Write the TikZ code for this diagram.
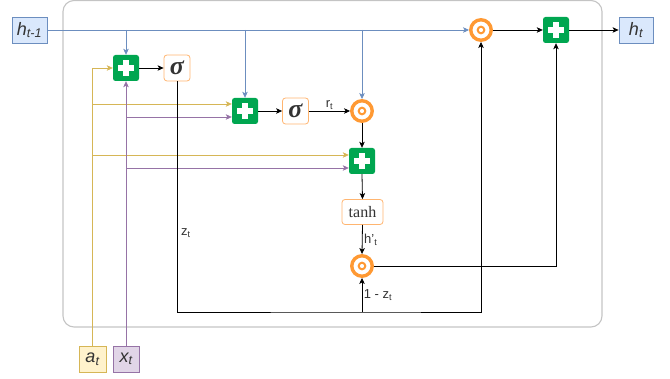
\documentclass[tikz,border=0pt]{standalone}
\usepackage{fontspec}
\setmainfont{Liberation Sans}
\newfontfamily\serifx{Liberation Serif}
\usetikzlibrary{arrows.meta,calc}
\definecolor{hblue}{HTML}{6C8EBF}
\definecolor{hbluefill}{HTML}{DAE8FC}
\definecolor{ayel}{HTML}{D6B656}
\definecolor{ayelfill}{HTML}{FFF2CC}
\definecolor{xpur}{HTML}{9673A6}
\definecolor{xpurfill}{HTML}{E1D5E7}
\definecolor{gplus}{HTML}{00A650}
\definecolor{orng}{HTML}{FF9933}
\definecolor{lorng}{HTML}{FFB570}
\definecolor{framec}{HTML}{C4C4C4}
\definecolor{txt}{HTML}{333333}
\newcommand{\sigmabig}{{\serifx\bfseries\itshape\fontsize{26}{26}\selectfont σ}}
\tikzset{
  io/.style={draw, minimum width=34pt, minimum height=26pt, inner sep=0pt, line width=0.8pt, text=txt, font=\fontsize{18}{18}\selectfont\itshape},
  pluss/.style={fill=gplus, rounded corners=2.5pt, minimum size=26pt, inner sep=0pt,
    path picture={\fill[white, sharp corners] ($(path picture bounding box.center)+(-8pt,-2.7pt)$) rectangle ++(16pt,5.4pt);
                  \fill[white, sharp corners] ($(path picture bounding box.center)+(-2.7pt,-8pt)$) rectangle ++(5.4pt,16pt);}},
  gatebox/.style={draw=lorng, fill=white, line width=0.8pt, rounded corners=3pt, minimum width=26pt, minimum height=26pt, inner sep=0pt, text=txt},
  odotc/.style={circle, draw=orng, fill=white, line width=3.4pt, minimum size=20.5pt, inner sep=0pt,
    path picture={\draw[orng, line width=2pt] (path picture bounding box.center) circle (3.3pt);}},
  arr/.style={line width=0.8pt, -{Stealth[length=6pt,width=5.5pt,inset=1.5pt]}},
  lbl/.style={font=\fontsize{13}{13}\selectfont, text=txt, inner sep=1.5pt}
}
\begin{document}
\begin{tikzpicture}[x=1pt,y=-1pt]
\useasboundingbox (0,0) rectangle (670,379);
\draw[framec, line width=1.1pt, rounded corners=11pt] (63,0.5) rectangle (602,327);

% inputs / outputs
\node[io, fill=hbluefill, draw=hblue, minimum width=35pt] (hp) at (29.5,30) {h\textsubscript{t-1}};
\node[io, fill=hbluefill, draw=hblue] (ht) at (636,30) {h\textsubscript{t}};
\node[io, fill=ayelfill, draw=ayel, minimum width=27pt] (an) at (92.5,359) {a\textsubscript{t}};
\node[io, fill=xpurfill, draw=xpur, minimum width=26pt] (xt) at (126,359) {x\textsubscript{t}};

% operators
\node[pluss] (p1) at (126,68) {};
\node[pluss] (p2) at (245,111) {};
\node[pluss] (p3) at (362,161) {};
\node[pluss] (pt) at (556,30) {};
\node[gatebox] (s1) at (177,68) {\sigmabig};
\node[gatebox] (s2) at (295.5,111) {\sigmabig};
\node[gatebox, minimum width=41pt, minimum height=25pt] (th) at (362.5,212) {\serifx\fontsize{16}{16}\selectfont tanh};
\node[odotc] (ot) at (481,30) {};
\node[odotc] (orr) at (362,111) {};
\node[odotc] (ob) at (362,266) {};

% h_{t-1}
\draw[hblue, arr] (hp.east) -- (ot.west);
\draw[hblue, arr] (hp.east -| p1.north) -- (p1.north);
\draw[hblue, arr] (hp.east -| p2.north) -- (p2.north);
\draw[hblue, arr] (hp.east -| orr.north) -- (orr.north);

% a_t
\draw[ayel, arr] (an.north) |- (p1.west);
\draw[ayel, arr] (an.north |- 0,104) -- (p2.west |- 0,104);
\draw[ayel, arr] (an.north |- 0,155) -- (p3.west |- 0,155);

% x_t
\draw[xpur, arr] (xt.north) -- (p1.south);
\draw[xpur, arr] (xt.north |- 0,117) -- (p2.west |- 0,117);
\draw[xpur, arr] (xt.north |- 0,168) -- (p3.west |- 0,168);

% black flow
\draw[arr] (p1.east) -- (s1.west);
\draw[arr] (p2.east) -- (s2.west);
\draw[arr] (s2.east) -- node[above, lbl]{r\textsubscript{t}} (orr.west);
\draw[arr] (orr.south) -- (p3.north);
\draw[arr] (p3.south) -- (th.north);
\draw[arr] (th.south) -- node[right, lbl]{h'\textsubscript{t}} (ob.north);
\coordinate (zb) at (362,312);
\draw[arr] (s1.south) |- (zb) -| (ot.south);
\draw[arr] (zb) -- node[right, lbl]{1 - z\textsubscript{t}} (ob.south);
\node[lbl] (zl) at (186,233) {z\textsubscript{t}};
\draw[arr] (ob.east) -| (pt.south);
\draw[arr] (ot.east) -- (pt.west);
\draw[arr] (pt.east) -- (ht.west);
\end{tikzpicture}
\end{document}
